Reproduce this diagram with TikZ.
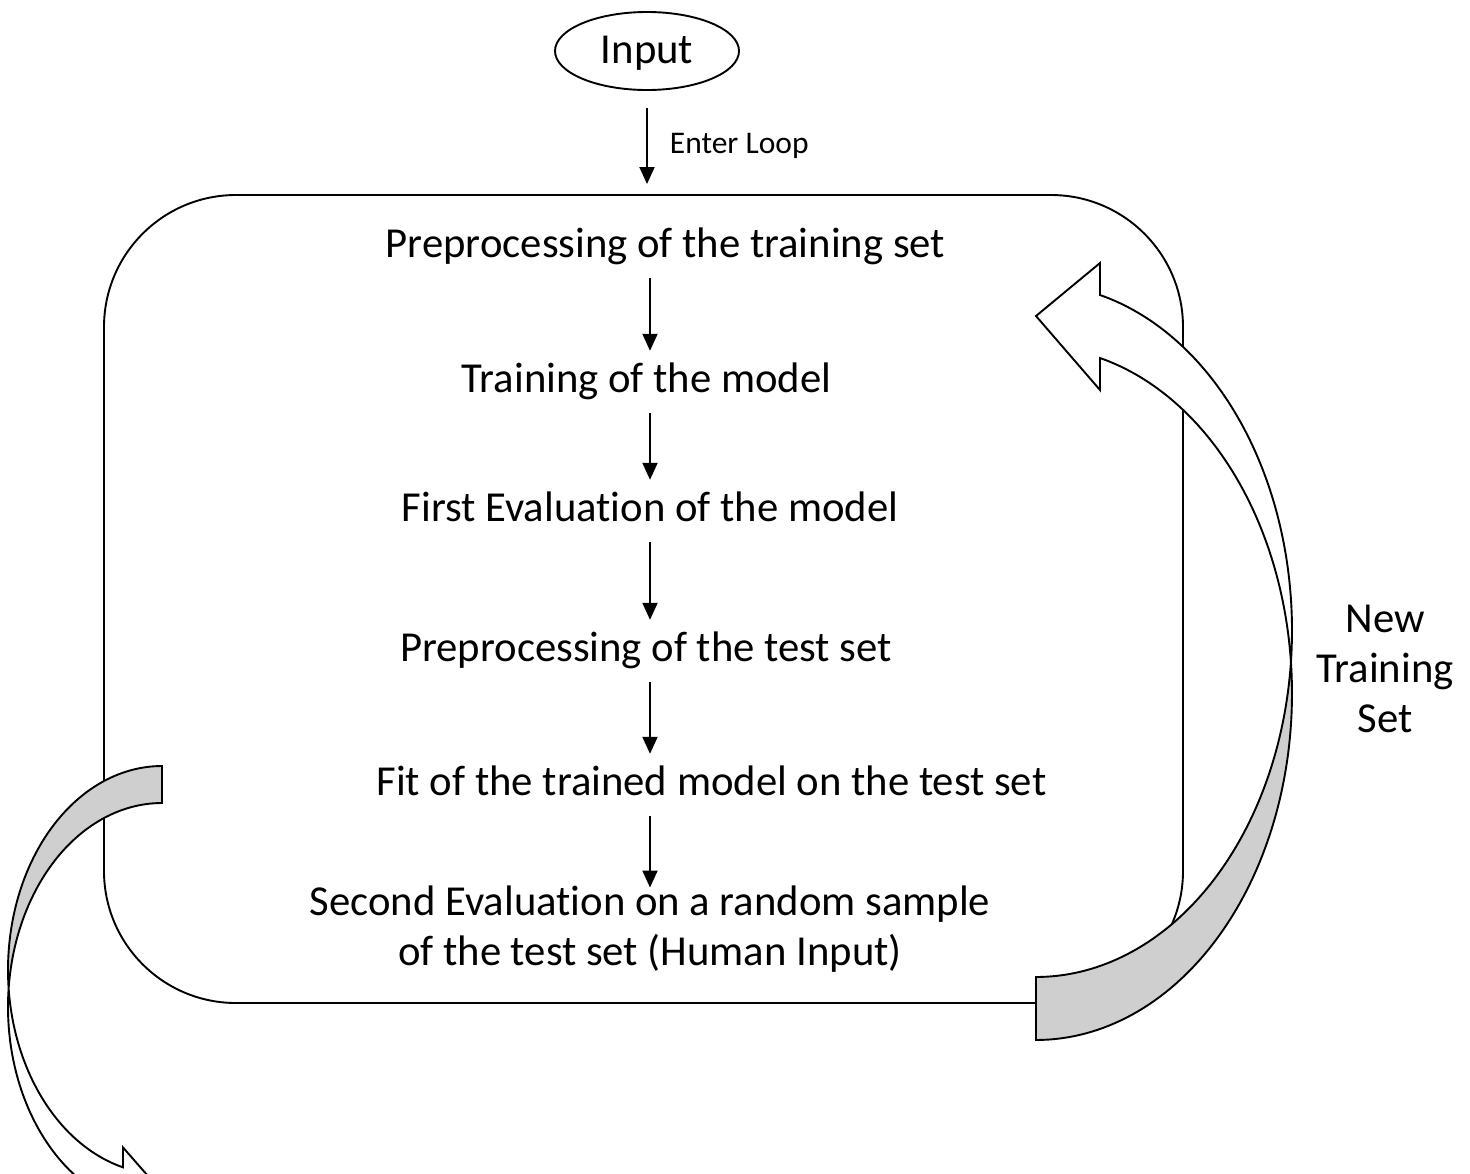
\documentclass[tikz,border=0pt]{standalone}
\usepackage{fontspec}
\setmainfont{Carlito}[Ligatures={NoCommon,NoContextual},Contextuals=NoAlternate]
\usetikzlibrary{arrows.meta,shapes.geometric}
\definecolor{bandgray}{RGB}{207,207,207}
% keep "t" and "i" as separate glyphs
\newcommand{\Evalword}{Evaluat\kern0pt ion}
\tikzset{
  big/.style={font=\fontsize{42.7}{50}\selectfont},
  stepnode/.style={big, inner sep=0pt, text height=41pt, text depth=21pt, anchor=base},
  flow/.style={line width=1.9pt, -{Triangle[length=17pt,width=15pt]}},
  band/.style={draw, line width=1.9pt, line join=miter},
}
\begin{document}
\begin{tikzpicture}[x=1pt,y=-1pt]
\useasboundingbox (0,0) rectangle (1470,1173);

% input and the loop frame
\node[ellipse, draw, line width=1.9pt, minimum width=184pt, minimum height=78pt,
      inner sep=0pt, text depth=2pt, big] (input) at (647,51) {Input};
\node[draw, line width=1.9pt, rounded corners=132pt, minimum width=1079pt,
      minimum height=808pt, inner sep=0pt] (loop) at (643.5,599) {};
\coordinate (axis) at (650,0);

% steps of the loop
\node[stepnode] (s1) at (665.5,257) {Preprocessing of the training set};
\node[stepnode] (s2) at (646.5,392) {Training of the model};
\node[stepnode] (s3) at (650,521) {First \Evalword{} of the model};
\node[stepnode] (s4) at (646,661) {Preprocessing of the test set};
\node[stepnode] (s5) at (711.5,795) {Fit of the trained model on the test set};
\node[big, align=center, inner sep=0pt] (s6) at (650,929)
  {Second \Evalword{} on a random sample\\of the test set (Human Input)};

\draw[flow, shorten <=17pt, shorten >=10pt] (input.south) -- (loop.north -| input.south)
  node[midway, right=22pt, yshift=-3pt, inner sep=0pt, font=\fontsize{31.5}{36}\selectfont] (enter) {Enter Loop};
\draw[flow] (s1.south -| axis) -- (s2.north -| axis);
\draw[flow] (s2.south -| axis) -- (s3.north -| axis);
\draw[flow] (s3.south -| axis) -- (s4.north -| axis);
\draw[flow] (s4.south -| axis) -- (s5.north -| axis);
\draw[flow, shorten >=-2pt] (s5.south -| axis) -- (s6.north -| axis);

% curved return arrow on the right: back face, then front face with head
\filldraw[band, fill=bandgray]
  plot[domain=5.216:90, samples=70] ({1036+256*cos(\x)}, {630.5+346.5*sin(\x)})
  -- plot[domain=90:-5.216, samples=70] ({1036+256*cos(\x)}, {693.5+346.5*sin(\x)})
  -- cycle;
\filldraw[band, fill=white]
  plot[domain=-75.52:5.216, samples=90] ({1036+256*cos(\x)}, {630.5+346.5*sin(\x)})
  -- plot[domain=-5.216:-75.52, samples=90] ({1036+256*cos(\x)}, {693.5+346.5*sin(\x)})
  -- (1100,390) -- (1036,316) -- (1100,263) -- cycle;
\node[big, align=center, inner sep=0pt] (newset) at (1385,669) {New\\Training\\Set};

% curved exit arrow on the left
\filldraw[band, fill=bandgray]
  plot[domain=174.8:270, samples=70] ({162+154*cos(\x)}, {970+204*sin(\x)})
  -- plot[domain=270:185.2, samples=70] ({162+154*cos(\x)}, {1007+204*sin(\x)})
  -- cycle;
\filldraw[band, fill=white]
  plot[domain=174.8:104.67, samples=70] ({162+154*cos(\x)}, {970+204*sin(\x)})
  -- (123,1147.4) -- (162,1192) -- (123,1224.4)
  -- plot[domain=104.67:185.2, samples=70] ({162+154*cos(\x)}, {1007+204*sin(\x)})
  -- cycle;
\end{tikzpicture}
\end{document}
